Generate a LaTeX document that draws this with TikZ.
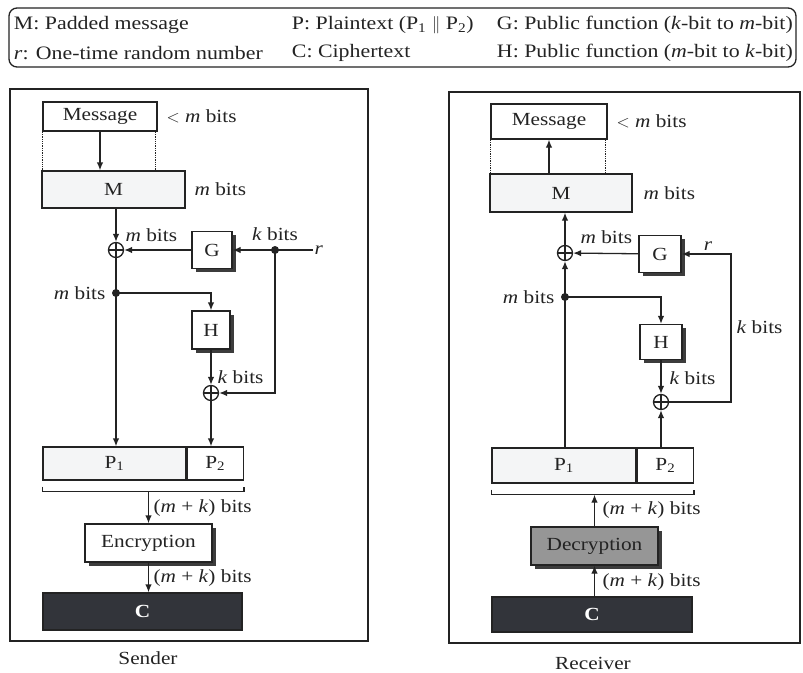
\documentclass[tikz,border=0pt]{standalone}
\usepackage{fontspec}
\setmainfont{Liberation Serif}[FakeStretch=1.15]
\usetikzlibrary{arrows.meta,positioning}
\definecolor{inkgray}{RGB}{35,35,35}
\definecolor{paperfill}{RGB}{244,245,246}
\definecolor{cipherfill}{RGB}{50,52,58}
\definecolor{decfill}{RGB}{150,150,150}
\definecolor{shadowgray}{RGB}{60,60,60}

\begin{document}
\begin{tikzpicture}[x=1pt, y=-1pt, line width=1.3pt, draw=inkgray, text=inkgray,
    font=\fontsize{18.5}{21}\selectfont,
    >={Latex[length=8pt,width=6.5pt]},
    block/.style={draw, inner sep=0pt, fill=white},
    fnbox/.style={block, minimum width=40pt, minimum height=37pt,
      preaction={fill=shadowgray, transform canvas={xshift=3.5pt, yshift=-3.5pt}}},
    xorgate/.style={circle, draw, fill=white, minimum size=15pt, inner sep=0pt,
      path picture={\draw (path picture bounding box.north) -- (path picture bounding box.south)
        (path picture bounding box.west) -- (path picture bounding box.east);}},
    junction/.style={circle, fill=inkgray, inner sep=0pt, minimum size=8pt},
    keytext/.style={anchor=west, font=\fontsize{19}{21}\selectfont}]
  \useasboundingbox (0,0) rectangle (803,672);

  % legend
  \draw[rounded corners=8pt] (9,8) rectangle (796,67);
  \node[keytext] (keyM) at (10,25) {M: Padded message};
  \node[keytext] (keyr) at (10,53) {\textit{r}: One-time random number};
  \node[keytext] (keyP) at (288,25) {P: Plaintext (P\textsubscript{1} $\|$ P\textsubscript{2})};
  \node[keytext] (keyC) at (288,53) {C: Ciphertext};
  \node[keytext] (keyG) at (493,25) {G: Public function (\textit{k}-bit to \textit{m}-bit)};
  \node[keytext] (keyH) at (493,53) {H: Public function (\textit{m}-bit to \textit{k}-bit)};

  % sender
  \draw (10,89) rectangle (368,641);
  \node[block, minimum width=114pt, minimum height=29pt] (smsg) at (100,116.5) {Message};
  \node[right=5pt of smsg] (smsgbits) {$<$ \textit{m} bits};
  \node[block, fill=paperfill, minimum width=143pt, minimum height=37pt] (sM) at (113.5,189.5) {M};
  \node[right=5pt of sM] (sMbits) {\textit{m} bits};
  \draw[densely dotted] (smsg.south west) -- (smsg.south west |- sM.north);
  \draw[densely dotted] ([xshift=-2pt]smsg.south east) -- ([xshift=-2pt]smsg.south east |- sM.north);
  \draw[->] (smsg.south) -- (smsg.south |- sM.north);
  \node[xorgate] (sx1) at (116,250) {};
  \node[fnbox] (sG) at (212,250) {G};
  \node[junction] (sdotr) at (275,250) {};
  \coordinate (srin) at (313,250);
  \node[anchor=west, inner sep=1pt] (sr) at (srin) {\textit{r}};
  \node[junction] (sdotm) at (116,293) {};
  \node[fnbox, minimum width=38pt, minimum height=38pt] (sH) at (211,330) {H};
  \node[xorgate] (sx2) at (211,393) {};
  \node[block, fill=paperfill, minimum width=143pt, minimum height=33pt] (sP1) at (114.5,463.5) {P\textsubscript{1}};
  \node[block, minimum width=56pt, minimum height=33pt, anchor=west] (sP2) at (sP1.east) {P\textsubscript{2}};
  \coordinate (sbrace) at ([yshift=-11pt]sP1.south);
  \node[fnbox, minimum width=127pt, minimum height=38pt] (sEnc) at (148.5,543) {Encryption};
  \node[block, fill=cipherfill, text=white, minimum width=199pt, minimum height=37pt] (sC) at (142.5,611.5) {\textbf{C}};
  \node (sender) at (148,658) {Sender};

  \draw[->] (sM.south -| sx1) -- (sx1);
  \draw[->] (sG) -- (sx1);
  \draw[->] (srin) -- (sG);
  \draw[->] (sdotr.center) |- (sx2);
  \draw (sx1) -- (sdotm.center);
  \draw[->] (sdotm.center) -| (sH);
  \draw[->] (sdotm.center) -- (sdotm |- sP1.north);
  \draw[->] (sH) -- (sx2);
  \draw[->] (sx2) -- (sx2 |- sP2.north);
  \draw ([yshift=-6pt]sP1.south west) -- ([yshift=-11pt]sP1.south west)
    -- ([yshift=-11pt]sP2.south east) -- ([yshift=-6pt]sP2.south east);
  \draw[->] (sbrace -| sEnc) -- (sEnc.north);
  \draw[->] (sEnc.south) -- (sEnc.south |- sC.north);
  \node[anchor=south west, inner sep=1pt] at (124,243) {\textit{m} bits};
  \node[above=1pt of sdotr] {\textit{k} bits};
  \node[left=2pt of sdotm] {\textit{m} bits};
  \node[anchor=west, inner sep=1pt] at (216,377) {\textit{k} bits};
  \node[anchor=west, inner sep=1pt] at (152,508) {(\textit{m} + \textit{k}) bits};
  \node[anchor=west, inner sep=1pt] at (152,578) {(\textit{m} + \textit{k}) bits};

  % receiver
  \draw (449,92) rectangle (800,643);
  \node[block, minimum width=116pt, minimum height=35pt] (rmsg) at (549,121.5) {Message};
  \node[right=5pt of rmsg] (rmsgbits) {$<$ \textit{m} bits};
  \node[block, fill=paperfill, minimum width=142pt, minimum height=38pt] (rM) at (561,193) {M};
  \node[right=7pt of rM] (rMbits) {\textit{m} bits};
  \draw[densely dotted] (rmsg.south west) -- (rmsg.south west |- rM.north);
  \draw[densely dotted] ([xshift=-2pt]rmsg.south east) -- ([xshift=-2pt]rmsg.south east |- rM.north);
  \draw[->] (rM.north -| rmsg) -- (rmsg.south);
  \node[xorgate] (rx1) at (565,253) {};
  \node[fnbox, minimum width=42pt] (rG) at (660,254) {G};
  \node[junction] (rdotm) at (565,297) {};
  \node[fnbox, minimum width=42pt, minimum height=35pt] (rH) at (661,342) {H};
  \node[xorgate] (rx2) at (661,402) {};
  \coordinate (rloop) at (731,402);
  \node[block, fill=paperfill, minimum width=144pt, minimum height=35pt] (rP1) at (564,465.5) {P\textsubscript{1}};
  \node[block, minimum width=56pt, minimum height=35pt, anchor=west] (rP2) at (rP1.east) {P\textsubscript{2}};
  \coordinate (rbrace) at ([yshift=-11pt]rP1.south);
  \node[fnbox, fill=decfill, minimum width=127pt, minimum height=38pt] (rDec) at (594.5,546) {Decryption};
  \node[block, fill=cipherfill, text=white, minimum width=200pt, minimum height=35pt] (rC) at (592,614.5) {\textbf{C}};
  \node (receiver) at (593,663) {Receiver};

  \draw[->] (rx1) -- (rx1 |- rM.south);
  \draw[->] (rG) -- (rx1);
  \draw[->] (rx2) -- (rloop) |- (rG);
  \draw (rdotm |- rP1.north) -- (rdotm.center);
  \draw[->] (rdotm.center) -- (rx1);
  \draw[->] (rdotm.center) -| (rH);
  \draw[->] (rH) -- (rx2);
  \draw[->] (rx2 |- rP2.north) -- (rx2);
  \draw ([yshift=-6pt]rP1.south west) -- ([yshift=-11pt]rP1.south west)
    -- ([yshift=-11pt]rP2.south east) -- ([yshift=-6pt]rP2.south east);
  \draw[->] (rDec.north) -- (rDec.north |- rbrace);
  \draw[->] (rDec.south |- rC.north) -- (rDec.south);
  \node[anchor=south west, inner sep=1pt] at (579,245) {\textit{m} bits};
  \node[anchor=south, inner sep=1pt] at (708,252) {\textit{r}};
  \node[left=2pt of rdotm] {\textit{m} bits};
  \node[anchor=west, inner sep=1pt] at (735,327) {\textit{k} bits};
  \node[anchor=west, inner sep=1pt] at (668,378) {\textit{k} bits};
  \node[anchor=west, inner sep=1pt] at (601,510) {(\textit{m} + \textit{k}) bits};
  \node[anchor=west, inner sep=1pt] at (601,582) {(\textit{m} + \textit{k}) bits};
\end{tikzpicture}
\end{document}
